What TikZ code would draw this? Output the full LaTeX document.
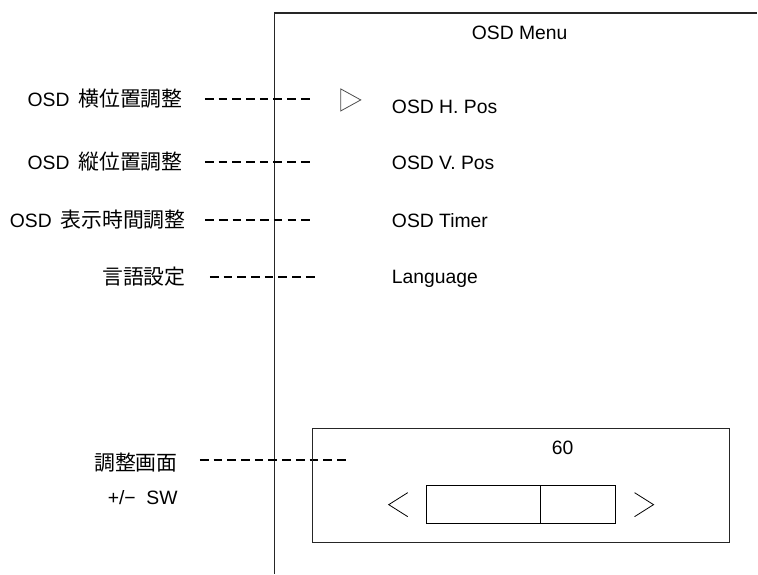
\documentclass[tikz,border=0pt]{standalone}
\usepackage{fontspec}
\setmainfont{Liberation Sans}
\newfontfamily\jpfont{Noto Sans CJK JP}[Scale=1.08]
\usetikzlibrary{positioning}
\tikzset{
  lbl/.style={anchor=east,inner sep=0pt,font=\fontsize{14.5}{16}\selectfont},
  item/.style={anchor=west,inner sep=0pt,font=\fontsize{14.5}{16}\selectfont},
  lead/.style={line width=1.1pt,dash pattern=on 6.5pt off 3.8pt},
  frame/.style={line width=0.8pt,draw=black!85},
}
\begin{document}
\begin{tikzpicture}[x=0.75pt,y=0.75pt,yscale=-1,xscale=1]
\path (0,0) rectangle (758,574);

%Straight Lines: screen frame
\draw [frame] (275,574) -- (275,13) -- (758,13) ;

% Text Node
\node [font=\fontsize{14.5}{16}\selectfont] (menu) at (520,33) {OSD Menu};

%Shape: cursor
\draw [draw=black!70,line width=0.6pt] (341,89) -- (361,100) -- (341,111) -- cycle ;

% Text Node: menu items
\node [item] (hpos) at (392,107) {OSD H. Pos};
\node [item] (vpos) at (392,163) {OSD V. Pos};
\node [item] (timer) at (392,221) {OSD Timer};
\node [item] (lang) at (392,279) {Language};

% Text Node: captions
\node [lbl] (hpos-l) at (183,99) {OSD\hspace{0.45em}{\jpfont 横位置調整}};
\node [lbl] (vpos-l) at (183,162) {OSD\hspace{0.45em}{\jpfont 縦位置調整}};
\node [lbl] (timer-l) at (186,220) {OSD\hspace{0.45em}{\jpfont 表示時間調整}};
\node [lbl] (lang-l) at (186,277) {{\jpfont 言語設定}};
\node [lbl] (adj-l) at (178,463) {{\jpfont 調整画面}};
\node [lbl] (sw-l) at (178,498) {+/−~~SW};

%Straight Lines: leaders
\draw [lead] ([xshift=16.5pt]hpos-l.east) -- +(107,0) ;
\draw [lead] ([xshift=16.5pt]vpos-l.east) -- +(107,0) ;
\draw [lead] ([xshift=14.5pt]timer-l.east) -- +(107,0) ;
\draw [lead] ([xshift=18pt]lang-l.east) -- +(106,0) ;
\draw [lead] ([xshift=16.5pt,yshift=-2pt]adj-l.east) -- +(147,0) ;

%Shape: Rectangle (adjust window)
\draw [frame] (313,429) rectangle (730,543) ;

% Text Node
\node [font=\fontsize{14.5}{16}\selectfont] (val) at (563,448) {60};

%Shape: Rectangle (bar)
\draw [line width=0.8pt] (427,486) rectangle (541,524) ;
\draw [line width=0.8pt] (541,486) rectangle (616,524) ;

%Straight Lines: < >
\draw [line width=0.6pt] (408,493) -- (389,505) -- (408,517) ;
\draw [line width=0.6pt] (635,493) -- (654,505) -- (635,517) ;

\end{tikzpicture}
\end{document}
